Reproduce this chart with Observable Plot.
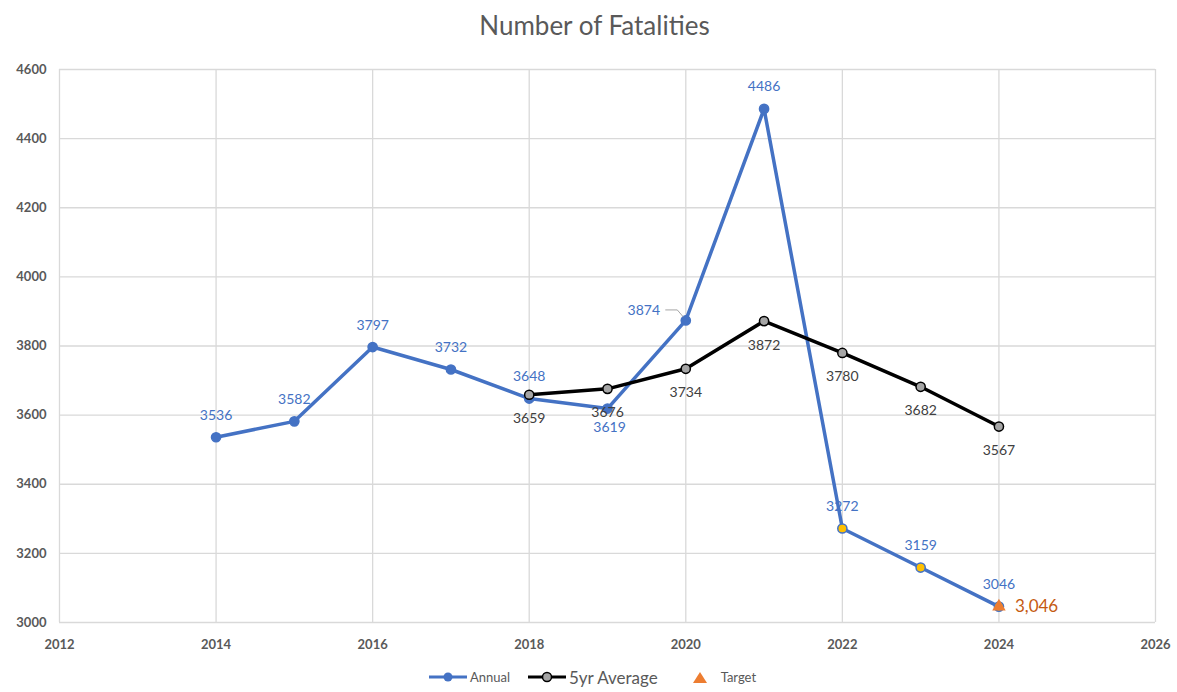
<!DOCTYPE html>
<html>
<head>
<meta charset="utf-8">
<script src="https://cdn.jsdelivr.net/npm/d3@7"></script>
<script src="https://cdn.jsdelivr.net/npm/@observablehq/plot@0.6"></script>
<style>
  html, body { margin: 0; padding: 0; background: #fff; }
  body { width: 1177px; height: 692px; overflow: hidden; font-family: Lato, "Noto Sans", sans-serif; }
  #title { height: 50px; line-height: 50px; text-align: center; font-size: 26px; color: #595959; padding-left: 12px; box-sizing: border-box; }
  #legend { height: 30px; display: flex; justify-content: center; align-items: center; gap: 18px; color: #595959; font-size: 13px; padding-left: 8px; }
  .item { display: flex; align-items: center; gap: 3px; }
</style>
</head>
<body>
<div id="title">Number of Fatalities</div>
<div id="chart"></div>
<div id="legend"></div>
<script>
const years = [2014, 2015, 2016, 2017, 2018, 2019, 2020, 2021, 2022, 2023, 2024];
const annual = [3536, 3582, 3797, 3732, 3648, 3619, 3874, 4486, 3272, 3159, 3046];
const avgYears = [2018, 2019, 2020, 2021, 2022, 2023, 2024];
const avg5 = [3659, 3676, 3734, 3872, 3780, 3682, 3567];
const targetYear = [2024];
const targetValue = [3046];
const xTicks = [2012, 2014, 2016, 2018, 2020, 2022, 2024, 2026];
const yTicks = [3000, 3200, 3400, 3600, 3800, 4000, 4200, 4400, 4600];

const annualData = years.map((y, i) => ({year: y, value: annual[i]}));
const avgData = avgYears.map((y, i) => ({year: y, value: avg5[i]}));
const targetData = targetYear.map((y, i) => ({year: y, value: targetValue[i]}));

const BLUE = "#4472C4";
const projected = d => d.year >= 2022;
const labelAbove = d => d.year !== 2019 && d.year !== 2020;

const chart = Plot.plot({
  width: 1177,
  height: 612,
  marginTop: 19,
  marginBottom: 40,
  marginLeft: 59,
  marginRight: 22,
  style: {background: "#fff", fontFamily: "Lato, 'Noto Sans', sans-serif"},
  x: {domain: [2012, 2026], ticks: xTicks, tickFormat: d => String(d), tickSize: 0, label: null},
  y: {domain: [3000, 4600], ticks: yTicks, tickFormat: d => String(d), tickSize: 0, label: null},
  marks: [
    Plot.gridX(xTicks, {stroke: "#d9d9d9", strokeOpacity: 1, strokeWidth: 1.3}),
    Plot.gridY(yTicks, {stroke: "#d9d9d9", strokeOpacity: 1, strokeWidth: 1.3}),
    Plot.axisX(xTicks, {tickSize: 0, tickPadding: 17, tickFormat: d => String(d), fontSize: 13, fontWeight: "bold", fill: "#595959", label: null}),
    Plot.axisY(yTicks, {tickSize: 0, tickPadding: 13, tickFormat: d => String(d), fontSize: 13, fontWeight: "bold", fill: "#595959", label: null}),
    Plot.line(annualData, {x: "year", y: "value", stroke: BLUE, strokeWidth: 3.5}),
    Plot.line(avgData, {x: "year", y: "value", stroke: "#000", strokeWidth: 3.5}),
    Plot.dot(annualData, {x: "year", y: "value", r: 4.6, fill: d => projected(d) ? "#FFC000" : BLUE, stroke: BLUE, strokeWidth: 1.5}),
    Plot.dot(avgData, {x: "year", y: "value", r: 4.6, fill: "#a5a5a5", stroke: "#000", strokeWidth: 1.5}),
    Plot.dot(targetData, {x: "year", y: "value", symbol: "triangle", r: 5, fill: "#ED7D31"}),
    // annual labels
    Plot.text(annualData.filter(labelAbove), {x: "year", y: "value", text: d => String(d.value), dy: -22, fill: BLUE, fontSize: 14}),
    Plot.text(annualData.filter(d => d.year === 2019), {x: "year", y: "value", text: d => String(d.value), dx: 2, dy: 19, fill: BLUE, fontSize: 14}),
    Plot.text(annualData.filter(d => d.year === 2020), {x: "year", y: "value", text: d => String(d.value), dx: -42, dy: -10, fill: BLUE, fontSize: 14}),
    Plot.dot(annualData.filter(d => d.year === 2020), {x: "year", y: "value", r: 0, render: (index, scales, values) => {
      const g = d3.create("svg:g");
      for (const i of index) {
        const px = values.x[i], py = values.y[i];
        g.append("path").attr("d", `M${px - 20},${py - 10}L${px - 8},${py - 10}L${px - 2},${py - 3}`).attr("fill", "none").attr("stroke", "#a5a5a5").attr("stroke-width", 1);
      }
      return g.node();
    }}),
    // average labels
    Plot.text(avgData, {x: "year", y: "value", text: d => String(d.value), dy: 24, fill: "#404040", fontSize: 14}),
    // target label
    Plot.text(targetData, {x: "year", y: "value", text: d => d3.format(",")(d.value), dx: 16, textAnchor: "start", fill: "#C55A11", fontSize: 17})
  ]
});
document.getElementById("chart").appendChild(chart);

document.getElementById("legend").innerHTML = `
  <div class="item"><svg width="38" height="12"><line x1="0" y1="6" x2="38" y2="6" stroke="${BLUE}" stroke-width="3"/><circle cx="19" cy="6" r="4.5" fill="${BLUE}"/></svg><span>Annual</span></div>
  <div class="item"><svg width="38" height="12"><line x1="0" y1="6" x2="38" y2="6" stroke="#000" stroke-width="3"/><circle cx="19" cy="6" r="4.5" fill="#a5a5a5" stroke="#000" stroke-width="1.5"/></svg><span style="font-size:17px">5yr Average</span></div>
  <div class="item" style="margin-left:14px"><svg width="20" height="14"><path d="M10,2L17,13L3,13Z" fill="#ED7D31"/></svg><span style="margin-left:8px">Target</span></div>
`;
</script>
</body>
</html>
